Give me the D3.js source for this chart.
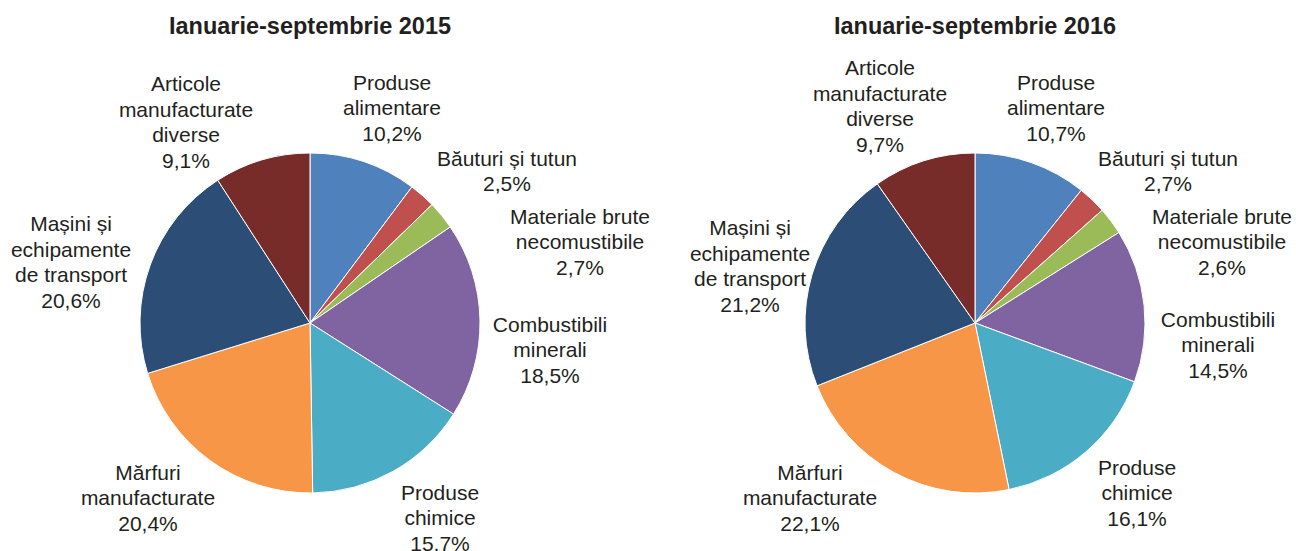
<!DOCTYPE html>
<html>
<head>
<meta charset="utf-8">
<script src="https://cdn.jsdelivr.net/npm/d3@7"></script>
<style>
  body { margin: 0; background: #fff; }
  svg { display: block; }
</style>
</head>
<body>
<div id="chart"></div>
<script>
// categories (label lines), same order for both years, clockwise from 12 o'clock
var categories = [
  ["Produse", "alimentare"],
  ["Băuturi și tutun"],
  ["Materiale brute", "necomustibile"],
  ["Combustibili", "minerali"],
  ["Produse", "chimice"],
  ["Mărfuri", "manufacturate"],
  ["Mașini și", "echipamente", "de transport"],
  ["Articole", "manufacturate", "diverse"]
];

var titles = ["Ianuarie-septembrie 2015", "Ianuarie-septembrie 2016"];
var values2015 = [10.2, 2.5, 2.7, 18.5, 15.7, 20.4, 20.6, 9.1];
var values2016 = [10.7, 2.7, 2.6, 14.5, 16.1, 22.1, 21.2, 9.7];
var colors = ["#4f81bd", "#c0504d", "#9bbb59", "#8064a2", "#4bacc6", "#f79646", "#2c4d75", "#772c2a"];

// label block centres relative to pie centre (layout only)
var labelOffsets = [
  [[82, -215], [197, -152], [270, -81], [240, 27], [130, 195], [-162, 175], [-239, -61], [-124, -201]],
  [[81, -215], [193, -152], [247, -81], [243, 22], [162, 170], [-165, 175], [-225, -57], [-95, -217]]
];

var W = 1296, H = 551;
var R = 170;
var centres = [[310, 323], [975, 323]];
var lineH = 25.5;
var fmt = function(v) { return d3.format(".1f")(v).replace(".", ",") + "%"; };

var svg = d3.select("#chart").append("svg")
  .attr("width", W)
  .attr("height", H)
  .style("font-family", "'Liberation Sans', Arial, sans-serif");

var pie = d3.pie().sort(null).value(function(d) { return d; });
var arc = d3.arc().innerRadius(0).outerRadius(R);

[values2015, values2016].forEach(function(vals, k) {
  var g = svg.append("g")
    .attr("transform", "translate(" + centres[k][0] + "," + centres[k][1] + ")");

  svg.append("text")
    .attr("x", centres[k][0])
    .attr("y", 34)
    .attr("text-anchor", "middle")
    .attr("font-size", 23.5)
    .attr("font-weight", "bold")
    .attr("fill", "#231f20")
    .text(titles[k]);

  g.selectAll("path")
    .data(pie(vals))
    .enter().append("path")
    .attr("d", arc)
    .attr("fill", function(d, i) { return colors[i]; })
    .attr("stroke", "#fff")
    .attr("stroke-width", 1);

  var labels = g.selectAll("text.lbl")
    .data(vals)
    .enter().append("text")
    .attr("class", "lbl")
    .attr("text-anchor", "middle")
    .attr("font-size", 21)
    .attr("fill", "#231f20");

  labels.each(function(v, i) {
    var lines = categories[i].concat([fmt(v)]);
    var off = labelOffsets[k][i];
    var y0 = off[1] - (lines.length - 1) * lineH / 2;
    var t = d3.select(this);
    lines.forEach(function(s, j) {
      t.append("tspan")
        .attr("x", off[0])
        .attr("y", y0 + j * lineH)
        .attr("dy", "0.35em")
        .text(s);
    });
  });
});
</script>
</body>
</html>
